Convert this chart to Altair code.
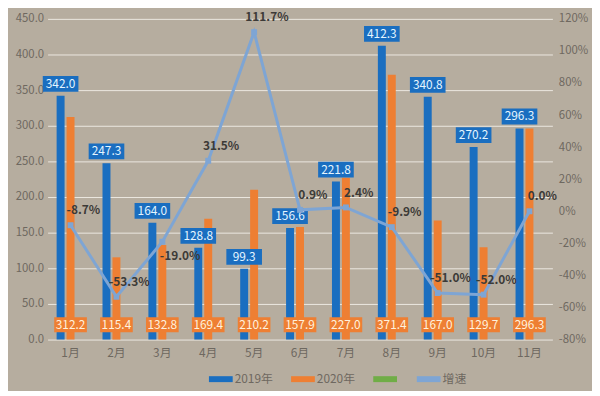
import altair as alt
import pandas as pd

months = ["1月", "2月", "3月", "4月", "5月", "6月", "7月", "8月", "9月", "10月", "11月"]
v2019 = [342.0, 247.3, 164.0, 128.8, 99.3, 156.6, 221.8, 412.3, 340.8, 270.2, 296.3]
v2020 = [312.2, 115.4, 132.8, 169.4, 210.2, 157.9, 227.0, 371.4, 167.0, 129.7, 296.3]
growth = [-8.7, -53.3, -19.0, 31.5, 111.7, 0.9, 2.4, -9.9, -51.0, -52.0, 0.0]
series = ["2019年", "2020年", " ", "增速"]
colors = ["#1A6EC0", "#EE7F33", "#70AD47", "#7EA5D4"]

FONT = "Noto Sans CJK SC"
AXIS_GRAY = "#6E6860"

df_bar = pd.DataFrame({
    "month": months * 2,
    "series": [series[0]] * len(months) + [series[1]] * len(months),
    "value": v2019 + v2020,
})
df_line = pd.DataFrame({"month": months, "growth": growth})

x_enc = alt.X(
    "month:N", sort=months,
    scale=alt.Scale(paddingInner=0.35, paddingOuter=0.175),
    axis=alt.Axis(title=None, labelAngle=0, domain=False, ticks=False, labelPadding=8,
                  labelFontSize=12, labelColor=AXIS_GRAY, labelFont=FONT, grid=False),
)
xoff_enc = alt.XOffset("series:N", scale=alt.Scale(domain=series[:3], paddingInner=0.2, paddingOuter=0.1))
left_scale = alt.Scale(domain=[0, 450], nice=False)
left_axis = alt.Axis(title=None, values=list(range(0, 451, 50)), format=".1f", domain=False, ticks=False,
                     labelPadding=4, labelFontSize=11.5, labelColor=AXIS_GRAY, labelFont=FONT,
                     labelOverlap=False, labelFlush=False,
                     grid=True, gridColor="#ECE8E1", gridWidth=1)
y_left = alt.Y("value:Q", scale=left_scale, axis=left_axis)
y_zero = alt.YDatum(0, type="quantitative", scale=left_scale, axis=left_axis)

base = alt.Chart(df_bar)

bars = base.mark_bar().encode(
    x=x_enc, xOffset=xoff_enc, y=y_left,
    color=alt.Color("series:N", scale=alt.Scale(domain=series, range=colors),
                    legend=alt.Legend(title=None, orient="none", direction="horizontal",
                                      legendX=163, legendY=352, padding=0,
                                      symbolType="M-1,-0.25L1,-0.25L1,0.25L-1,0.25Z",
                                      symbolSize=576, symbolStrokeWidth=0, symbolOpacity=1,
                                      labelFontSize=12, labelColor=AXIS_GRAY, labelFont=FONT,
                                      labelOffset=2, columnPadding=18)),
)

BOX19 = "M-1,-0.444L1,-0.444L1,0.444L-1,0.444Z"
BOX20 = "M-1,-0.4545L1,-0.4545L1,0.4545L-1,0.4545Z"

b19 = base.transform_filter(alt.datum.series == series[0])
box19 = b19.mark_point(shape=BOX19, size=1296, filled=True, opacity=1, color="#1A6EC0", yOffset=-12).encode(
    x=x_enc, xOffset=xoff_enc, y=y_left)
txt19 = b19.mark_text(dy=-12, baseline="middle", fontSize=12, font=FONT, color="#E4F5FF").encode(
    x=x_enc, xOffset=xoff_enc, y=y_left, text=alt.Text("value:Q", format=".1f"))

b20 = base.transform_filter(alt.datum.series == series[1])
box20 = b20.mark_point(shape=BOX20, size=1089, filled=True, opacity=1, color="#EE7F33", yOffset=-15).encode(
    x=x_enc, xOffset=xoff_enc, y=y_zero)
txt20 = b20.mark_text(dy=-15, baseline="middle", fontSize=12, font=FONT, color="#FFF1DD").encode(
    x=x_enc, xOffset=xoff_enc, y=y_zero, text=alt.Text("value:Q", format=".1f"))

left = alt.layer(bars, box19, txt19, box20, txt20)

y_right = alt.Y(
    "growth:Q", scale=alt.Scale(domain=[-80, 120], nice=False),
    axis=alt.Axis(title=None, orient="right", values=list(range(-80, 121, 20)),
                  labelExpr="datum.value + '%'", domain=False, ticks=False, grid=False,
                  labelOverlap=False, labelFlush=False,
                  labelPadding=6, labelFontSize=11.5, labelColor=AXIS_GRAY, labelFont=FONT),
)
lbase = alt.Chart(df_line).transform_calculate(
    lab="(datum.growth < 0 ? '-' : '') + format(abs(datum.growth), '.1f') + '%'")
line = lbase.mark_line(color=colors[3], strokeWidth=3,
                       point=alt.OverlayMarkDef(shape="square", size=36, filled=True, color=colors[3])).encode(
    x=x_enc, y=y_right)
glab_style = dict(baseline="middle", fontSize=12, fontWeight="bold", font=FONT, color="#3C3A37")
glab = lbase.transform_filter(alt.datum.month != "3月").mark_text(dx=13, dy=-15, **glab_style).encode(
    x=x_enc, y=y_right, text="lab:N")
glab_below = lbase.transform_filter(alt.datum.month == "3月").mark_text(dx=18, dy=14, **glab_style).encode(
    x=x_enc, y=y_right, text="lab:N")
right = alt.layer(line, glab, glab_below)

chart = alt.layer(left, right).resolve_scale(y="independent").properties(
    width=510, height=324,
    padding={"left": 40, "top": 9, "right": 40, "bottom": 50},
    autosize=alt.AutoSizeParams(type="none"),
    background="#B6AD9F",
).configure_view(stroke=None)

chart.save("out.html", embed_options={"renderer": "svg", "actions": False})
